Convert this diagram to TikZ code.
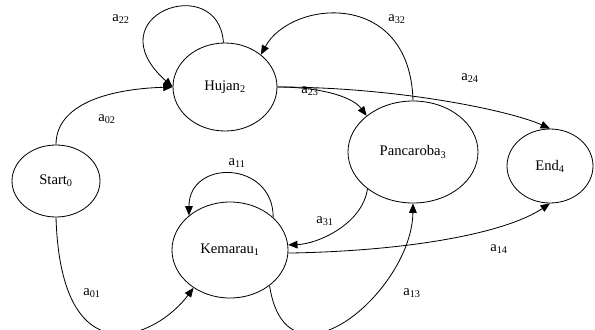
\documentclass[tikz,border=0pt]{standalone}
\usepackage{fontspec}
\setmainfont{Liberation Serif}
\usetikzlibrary{shapes.geometric,arrows.meta}

\begin{document}
\begin{tikzpicture}[x=0.03cm, y=-0.03cm,
	st/.style={draw, ellipse, inner sep=0pt, line width=0.7pt, font=\fontsize{12.5}{14}\selectfont},
	trans/.style={-{Triangle[length=8pt,width=6.5pt]}, line width=0.7pt},
	lbl/.style={inner sep=0pt, font=\fontsize{12.5}{14}\selectfont}]
	\useasboundingbox (0,0) rectangle (595,329);
	\clip (0,0) rectangle (595,329);

	% states
	\node[st, minimum width=2.64cm, minimum height=2.16cm] (start) at (56,181) {Start\textsubscript{0}};
	\node[st, minimum width=3.12cm, minimum height=2.64cm] (hujan) at (225,87) {Hujan\textsubscript{2}};
	\node[st, minimum width=3.9cm, minimum height=3.06cm] (panca) at (413,152) {Pancaroba\textsubscript{3}};
	\node[st, minimum width=2.58cm, minimum height=2.22cm] (end) at (550,166) {End\textsubscript{4}};
	\node[st, minimum width=3.48cm, minimum height=2.88cm] (kemarau) at (230,250) {Kemarau\textsubscript{1}};

	% labels
	\node[lbl] (l22) at (121,19) {a\textsubscript{22}};
	\node[lbl] (l02) at (107,119) {a\textsubscript{02}};
	\node[lbl] (l32) at (397,19) {a\textsubscript{32}};
	\node[lbl] (l24) at (470,78) {a\textsubscript{24}};
	\node[lbl] (l23) at (310,91) {a\textsubscript{23}};
	\node[lbl] (l11) at (237,163) {a\textsubscript{11}};
	\node[lbl] (l01) at (92,293) {a\textsubscript{01}};
	\node[lbl] (l31) at (325,221) {a\textsubscript{31}};
	\node[lbl] (l14) at (499,249) {a\textsubscript{14}};
	\node[lbl] (l13) at (412,293) {a\textsubscript{13}};

	% transitions
	\draw [trans] (hujan.92) .. controls +(-5,-72) and +(-80,-72) .. (hujan.west);
	\draw [trans] (start.north) .. controls +(0,-40) and +(-65,2) .. (hujan.west);
	\draw [trans] (panca.north) .. controls +(-3,-112) and +(30,-55) .. (hujan.42);
	\draw [trans] (hujan.east) .. controls +(40,0) and +(-15,-20) .. (panca.142);
	\draw [trans] (hujan.east) .. controls +(120,0) and +(-40,-18) .. (end.north);
	\draw [trans] (kemarau.37) .. controls +(0,-57) and +(0,-57) .. (kemarau.140);
	\draw [trans] (panca.219) .. controls +(-5,35) and +(30,-1) .. (kemarau.5);
	\draw [trans] (kemarau.-3) .. controls +(120,-2) and +(-45,30) .. (end.south);
	\draw [trans] (kemarau.-42) .. controls +(17,112) and +(-1,87) .. (panca.south);
	\draw [trans] (start.south) .. controls +(5,163) and +(-37,50) .. (kemarau.226);
\end{tikzpicture}
\end{document}
